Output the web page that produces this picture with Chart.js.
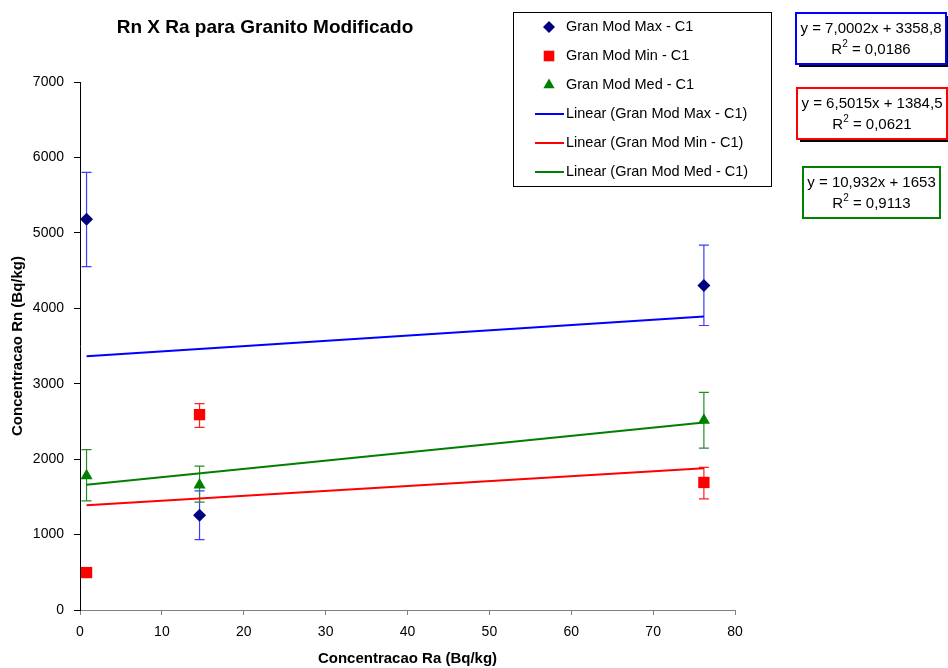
<!DOCTYPE html>
<html>
<head>
<meta charset="utf-8">
<script src="https://cdn.jsdelivr.net/npm/chart.js@4/dist/chart.umd.min.js"></script>
<style>
  html, body { margin: 0; padding: 0; background: #fff; }
  #wrap { position: relative; width: 948px; height: 668px; }
</style>
</head>
<body>
<div id="wrap"><canvas id="chart" width="948" height="668"></canvas></div>
<script>
// Concentracao Ra (Bq/kg) das amostras
const raValues = [0.8, 14.6, 76.2]

// Concentracao Rn (Bq/kg) e barras de erro
const maxValues = [5180, 1257, 4303]
const maxErrLow = [4551, 934, 3772]
const maxErrHigh = [5803, 1580, 4838]

const minValues = [496, 2590, 1691]
const minErrLow = [496, 2421, 1474]
const minErrHigh = [496, 2736, 1890]

const medValues = [1780, 1656, 2514]
const medErrLow = [1447, 1430, 2147]
const medErrHigh = [2125, 1908, 2886]

// linhas de tendencia (coeficientes do ajuste)
const trendSlope = [7.0002, 6.5015, 10.932]
const trendIntercept = [3358.8, 1384.5, 1653]
const trendLabels = ["y = 7,0002x + 3358,8", "y = 6,5015x + 1384,5", "y = 10,932x + 1653"]
const trendR2 = ["0,0186", "0,0621", "0,9113"]

const seriesNames = ["Gran Mod Max - C1", "Gran Mod Min - C1", "Gran Mod Med - C1"]
const colors = ["#0000ff", "#ff0000", "#008000"]
const markerColors = ["#000080", "#ff0000", "#008000"]
const errColors = ["#3c3cff", "#ff2020", "#2a8a2a"]
const markerStyles = ["rectRot", "rect", "triangle"]

const FONT = "'Liberation Sans', Arial, sans-serif"

function points(values){
    return raValues.map((x, i)=>({x: x, y: values[i]}))
}

function trendPoints(i){
    const x0 = Math.min(...raValues), x1 = Math.max(...raValues)
    return [x0, x1].map(x=>({x: x, y: trendSlope[i]*x + trendIntercept[i]}))
}

const errorData = [
    [maxErrLow, maxErrHigh],
    [minErrLow, minErrHigh],
    [medErrLow, medErrHigh]
]

const errorBars = {
    id: "errorBars",
    beforeDatasetsDraw(chart){
        const ctx = chart.ctx, xs = chart.scales.x, ys = chart.scales.y
        ctx.save()
        ctx.lineWidth = 1.2
        errorData.forEach((err, s)=>{
            ctx.strokeStyle = errColors[s]
            raValues.forEach((x, i)=>{
                if(err[0][i] === err[1][i]) return
                const px = xs.getPixelForValue(x)
                const lo = ys.getPixelForValue(err[0][i]), hi = ys.getPixelForValue(err[1][i])
                ctx.beginPath()
                ctx.moveTo(px, lo); ctx.lineTo(px, hi)
                ctx.moveTo(px - 5, lo); ctx.lineTo(px + 5, lo)
                ctx.moveTo(px - 5, hi); ctx.lineTo(px + 5, hi)
                ctx.stroke()
            })
        })
        ctx.restore()
    }
}

function drawR2(ctx, cx, y, value){
    const rest = " = " + value
    ctx.font = "15px " + FONT
    const wR = ctx.measureText("R").width
    const wRest = ctx.measureText(rest).width
    ctx.font = "10px " + FONT
    const w2 = ctx.measureText("2").width
    let x = cx - (wR + w2 + wRest) / 2
    ctx.textAlign = "left"
    ctx.font = "15px " + FONT
    ctx.fillText("R", x, y)
    x += wR
    ctx.font = "10px " + FONT
    ctx.fillText("2", x, y - 6)
    x += w2
    ctx.font = "15px " + FONT
    ctx.fillText(rest, x, y)
}

const decorations = {
    id: "decorations",
    afterDraw(chart){
        const ctx = chart.ctx
        ctx.save()
        ctx.fillStyle = "#000"
        ctx.textBaseline = "middle"

        // titulo
        ctx.font = "bold 19px " + FONT
        ctx.textAlign = "center"
        ctx.fillText("Rn X Ra para Granito Modificado", 265, 28)

        // legenda
        ctx.strokeStyle = "#000"
        ctx.lineWidth = 1
        ctx.strokeRect(513.5, 12.5, 258, 174)
        const rowY = [27, 56, 85, 114, 143, 172]
        const legendRadius = [6, 7.5, 6.5]
        ctx.font = "14.5px " + FONT
        ctx.textAlign = "left"
        seriesNames.forEach((name, i)=>{
            ctx.fillStyle = markerColors[i]
            ctx.strokeStyle = markerColors[i]
            Chart.helpers.drawPoint(ctx, {pointStyle: markerStyles[i], radius: legendRadius[i], borderWidth: 0}, 549, rowY[i])
            ctx.fillStyle = "#000"
            ctx.fillText(name, 566, rowY[i])
        })
        seriesNames.forEach((name, i)=>{
            const y = rowY[i + 3]
            ctx.strokeStyle = colors[i]
            ctx.lineWidth = 2
            ctx.beginPath()
            ctx.moveTo(535, y); ctx.lineTo(564, y)
            ctx.stroke()
            ctx.fillStyle = "#000"
            ctx.fillText("Linear (" + name + ")", 566, y)
        })

        // caixas das equacoes
        const boxes = [
            {x: 796, y: 13, w: 150, h: 51, shadow: true},
            {x: 797, y: 88, w: 150, h: 51, shadow: true},
            {x: 803, y: 167, w: 137, h: 51, shadow: false}
        ]
        boxes.forEach((b, i)=>{
            if(b.shadow){
                ctx.fillStyle = "#000"
                ctx.fillRect(b.x + 3, b.y + 3, b.w, b.h)
            }
            ctx.fillStyle = "#fff"
            ctx.fillRect(b.x, b.y, b.w, b.h)
            ctx.strokeStyle = colors[i]
            ctx.lineWidth = 2
            ctx.strokeRect(b.x, b.y, b.w, b.h)
            ctx.fillStyle = "#000"
            ctx.font = "15px " + FONT
            ctx.textAlign = "center"
            const cx = b.x + b.w / 2
            ctx.fillText(trendLabels[i], cx, b.y + 16)
            drawR2(ctx, cx, b.y + 37, trendR2[i])
        })
        ctx.restore()
    }
}

const scatterSets = [maxValues, minValues, medValues].map((v, i)=>({
    label: seriesNames[i],
    data: points(v),
    showLine: false,
    pointStyle: markerStyles[i],
    pointRadius: [6.5, 8, 7][i],
    pointBackgroundColor: markerColors[i],
    pointBorderColor: markerColors[i],
    pointBorderWidth: 0,
    order: 0
}))

const trendSets = seriesNames.map((name, i)=>({
    label: "Linear (" + name + ")",
    data: trendPoints(i),
    showLine: true,
    borderColor: colors[i],
    borderWidth: 2,
    pointRadius: 0,
    fill: false,
    order: 1
}))

new Chart(document.querySelector("#chart"), {
    type: "scatter",
    data: {datasets: [...trendSets, ...scatterSets]},
    options: {
        responsive: false,
        animation: false,
        layout: {padding: {top: 82, right: 213, left: 0, bottom: 0}},
        plugins: {
            legend: {display: false},
            title: {display: false},
            tooltip: {enabled: false}
        },
        scales: {
            x: {
                type: "linear",
                min: 0,
                max: 80,
                ticks: {stepSize: 10, color: "#000", font: {family: FONT, size: 14}, padding: 9, maxRotation: 0},
                grid: {display: true, drawOnChartArea: false, drawTicks: true, tickLength: 5, color: "#808080"},
                border: {display: true, color: "#808080", width: 1},
                title: {display: true, text: "Concentracao Ra (Bq/kg)", color: "#000", font: {family: FONT, size: 15, weight: "bold"}, padding: {top: 0, bottom: 0}},
                afterFit(scale){ scale.height = 58 }
            },
            y: {
                type: "linear",
                min: 0,
                max: 7000,
                ticks: {stepSize: 1000, color: "#000", font: {family: FONT, size: 14}, padding: 10, callback: v=>String(v)},
                grid: {display: true, drawOnChartArea: false, drawTicks: true, tickLength: 6, color: "#000"},
                border: {display: true, color: "#000", width: 1},
                title: {display: true, text: "Concentracao Rn (Bq/kg)", color: "#000", font: {family: FONT, size: 15, weight: "bold"}, padding: {top: 9, bottom: 0}},
                afterFit(scale){ scale.width = 80 }
            }
        }
    },
    plugins: [errorBars, decorations]
})
</script>
</body>
</html>
